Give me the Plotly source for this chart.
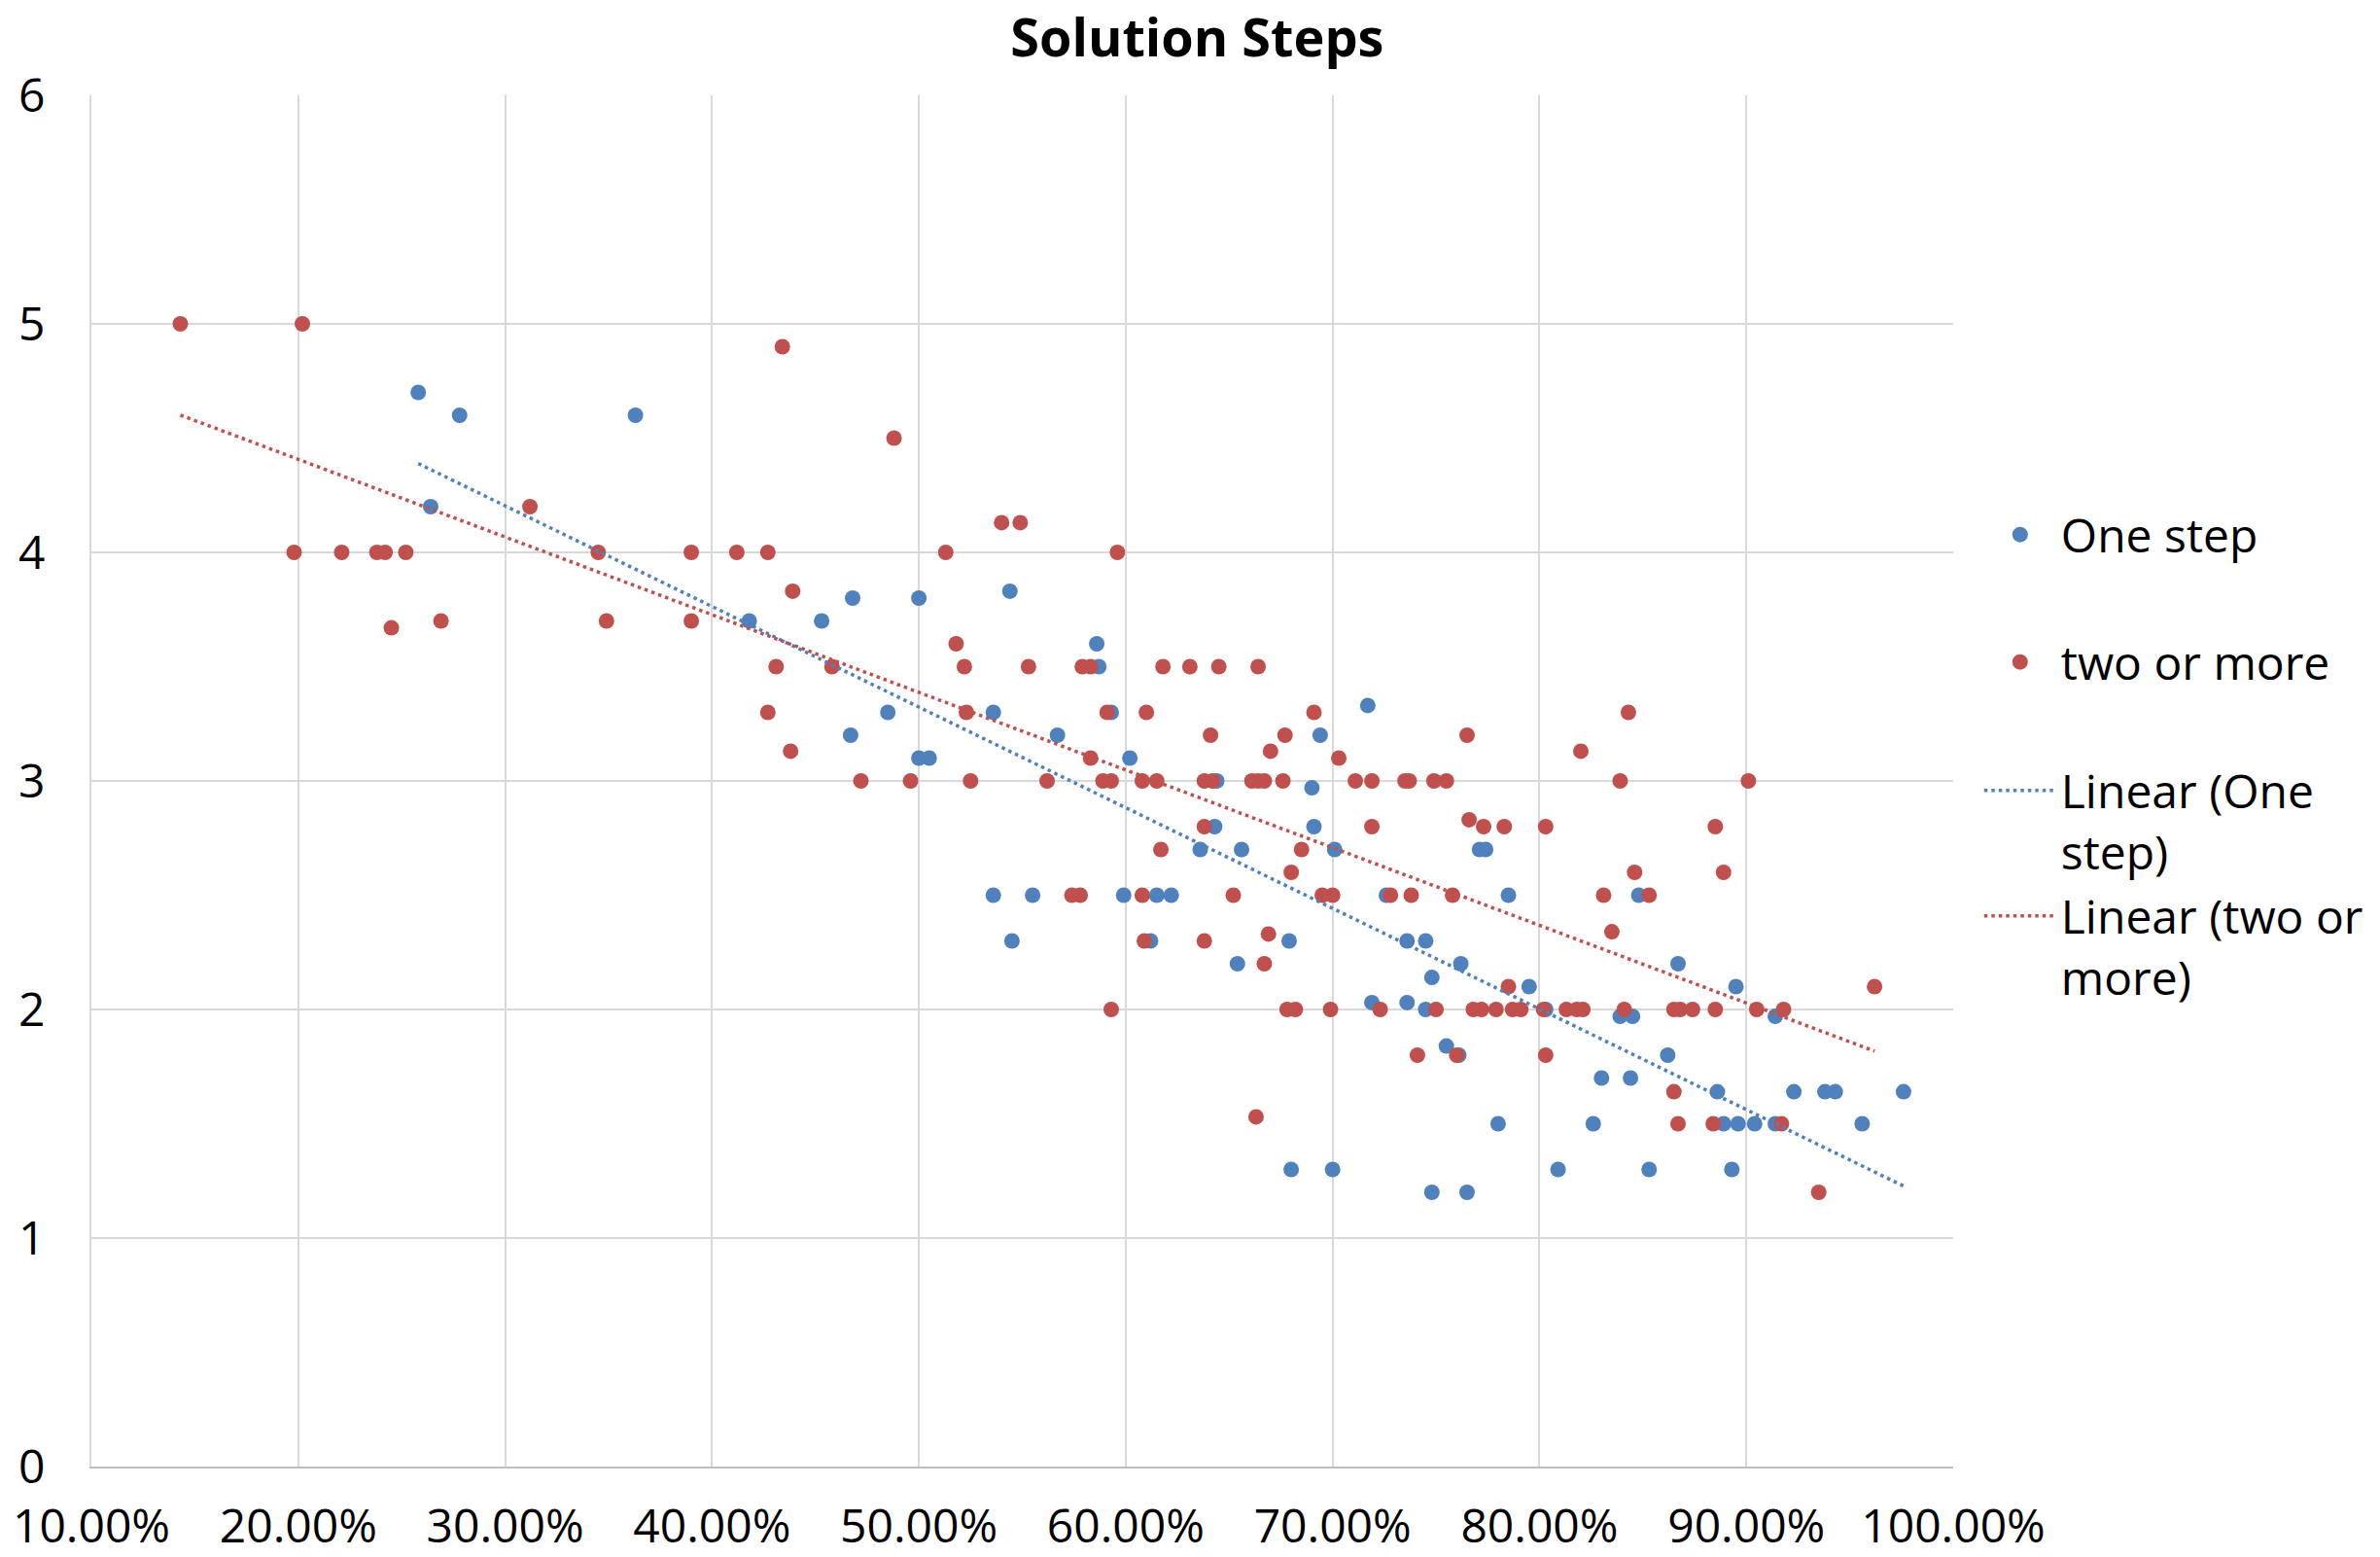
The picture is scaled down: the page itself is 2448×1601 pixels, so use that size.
import numpy as np
import plotly.graph_objects as go

# Share of correct answers (%) and average number of solution steps
one_step_pct = [
    25.8, 27.8, 26.4, 36.3, 41.8, 46.8, 50.0, 54.4, 45.3, 58.6,
    58.7, 48.5, 53.6, 59.3, 46.7, 56.7, 50.0, 50.5, 60.2, 64.4,
    69.0, 64.3, 69.1, 63.6, 65.6, 53.6, 55.5, 59.9, 61.5, 62.2,
    54.5, 61.2, 67.9, 65.4, 68.0, 71.7, 69.4, 70.1, 77.1, 77.4,
    72.6, 78.5, 84.8, 73.6, 74.5, 76.2, 74.8, 86.7, 79.5, 89.5,
    71.9, 73.6, 74.5, 80.3, 83.9, 84.5, 91.4, 75.5, 76.1, 86.2,
    83.0, 84.4, 88.6, 92.3, 93.8, 94.3, 97.6, 78.0, 82.6, 88.9,
    89.6, 90.4, 91.4, 95.6, 70.0, 80.9, 85.3, 89.3, 74.8, 76.5,
]
one_step_steps = [
    4.70, 4.60, 4.20, 4.60, 3.70, 3.80, 3.80, 3.83, 3.70, 3.60,
    3.50, 3.30, 3.30, 3.30, 3.20, 3.20, 3.10, 3.10, 3.10, 3.00,
    2.97, 2.80, 2.80, 2.70, 2.70, 2.50, 2.50, 2.50, 2.50, 2.50,
    2.30, 2.30, 2.30, 2.20, 1.30, 3.33, 3.20, 2.70, 2.70, 2.70,
    2.50, 2.50, 2.50, 2.30, 2.30, 2.20, 2.14, 2.20, 2.10, 2.10,
    2.03, 2.03, 2.00, 2.00, 1.97, 1.97, 1.97, 1.84, 1.80, 1.80,
    1.70, 1.70, 1.64, 1.64, 1.64, 1.64, 1.64, 1.50, 1.50, 1.50,
    1.50, 1.50, 1.50, 1.50, 1.30, 1.30, 1.30, 1.30, 1.20, 1.20,
]

two_more_pct = [
    14.3, 20.2, 19.8, 22.1, 23.8, 24.2, 25.2, 24.5, 26.9, 31.2,
    34.5, 34.9, 39.0, 39.0, 41.2, 43.4, 48.8, 54.0, 54.9, 42.7,
    51.3, 59.6, 43.9, 43.1, 45.8, 51.8, 52.2, 55.3, 57.9, 58.3,
    61.8, 63.1, 64.5, 66.4, 42.7, 43.8, 47.2, 49.6, 52.3, 52.5,
    56.2, 59.1, 58.3, 58.9, 59.3, 61.0, 60.8, 61.5, 64.1, 63.8,
    64.2, 67.0, 67.7, 66.1, 66.4, 66.7, 67.6, 69.1, 63.8, 61.7,
    68.5, 68.0, 59.3, 57.4, 57.8, 60.8, 65.2, 60.9, 63.8, 66.9,
    66.7, 66.3, 67.8, 68.2, 84.3, 76.5, 82.0, 70.3, 71.1, 71.9,
    73.5, 73.7, 74.9, 75.5, 83.9, 90.1, 71.9, 76.6, 77.3, 78.3,
    80.3, 88.5, 84.6, 88.9, 69.5, 70.0, 72.8, 73.8, 75.8, 83.1,
    85.3, 83.5, 78.5, 69.9, 72.3, 75.0, 76.8, 77.2, 77.9, 78.7,
    79.1, 80.2, 81.3, 81.8, 82.1, 84.1, 86.5, 86.8, 87.4, 88.5,
    90.5, 91.8, 96.2, 74.1, 76.0, 80.3, 86.5, 86.7, 88.4, 91.7,
    93.5,
]
two_more_steps = [
    5.00, 5.00, 4.00, 4.00, 4.00, 4.00, 4.00, 3.67, 3.70, 4.20,
    4.00, 3.70, 4.00, 3.70, 4.00, 4.90, 4.50, 4.13, 4.13, 4.00,
    4.00, 4.00, 3.83, 3.50, 3.50, 3.60, 3.50, 3.50, 3.50, 3.50,
    3.50, 3.50, 3.50, 3.50, 3.30, 3.13, 3.00, 3.00, 3.30, 3.00,
    3.00, 3.30, 3.10, 3.00, 3.00, 3.30, 3.00, 3.00, 3.20, 3.00,
    3.00, 3.13, 3.20, 3.00, 3.00, 3.00, 3.00, 3.30, 2.80, 2.70,
    2.70, 2.60, 2.00, 2.50, 2.50, 2.50, 2.50, 2.30, 2.30, 2.33,
    2.20, 1.53, 2.00, 2.00, 3.30, 3.20, 3.13, 3.10, 3.00, 3.00,
    3.00, 3.00, 3.00, 3.00, 3.00, 3.00, 2.80, 2.83, 2.80, 2.80,
    2.80, 2.80, 2.60, 2.60, 2.50, 2.50, 2.50, 2.50, 2.50, 2.50,
    2.50, 2.34, 2.10, 2.00, 2.00, 2.00, 2.00, 2.00, 2.00, 2.00,
    2.00, 2.00, 2.00, 2.00, 2.00, 2.00, 2.00, 2.00, 2.00, 2.00,
    2.00, 2.00, 2.10, 1.80, 1.80, 1.80, 1.64, 1.50, 1.50, 1.50,
    1.20,
]

x_tick_vals = [0.1, 0.2, 0.3, 0.4, 0.5, 0.6, 0.7, 0.8, 0.9, 1.0]
y_tick_vals = [0, 1, 2, 3, 4, 5, 6]

BLUE = "#4F81BD"
RED = "#C0504D"
FONT = "Open Sans"
FS = 48

x1 = np.array(one_step_pct) / 100
y1 = np.array(one_step_steps)
x2 = np.array(two_more_pct) / 100
y2 = np.array(two_more_steps)


def linear_trend(x, y):
    """Least-squares line spanning the series' x range."""
    slope, intercept = np.polyfit(x, y, 1)
    xs = np.array([x.min(), x.max()])
    return xs, slope * xs + intercept


t1x, t1y = linear_trend(x1, y1)
t2x, t2y = linear_trend(x2, y2)

fig = go.Figure()
fig.add_trace(go.Scatter(
    x=x1, y=y1, mode="markers", name="One step", legend="legend",
    showlegend=True,
    marker=dict(color=BLUE, size=16, line=dict(width=0)),
))
fig.add_trace(go.Scatter(
    x=x2, y=y2, mode="markers", name="two or more", legend="legend2",
    showlegend=True,
    marker=dict(color=RED, size=16, line=dict(width=0)),
))
fig.add_trace(go.Scatter(
    x=t1x, y=t1y, mode="lines", name="Linear (One<br>step)", legend="legend3",
    showlegend=True,
    line=dict(color=BLUE, width=3.5, dash="3.5px,4px"),
))
fig.add_trace(go.Scatter(
    x=t2x, y=t2y, mode="lines", name="Linear (two or<br>more)", legend="legend4",
    showlegend=True,
    line=dict(color=RED, width=3.5, dash="3.5px,4px"),
))

W, H = 2448, 1601
L, R, T, B = 94, 439, 98, 93
plot_h = H - T - B


def ypaper(px):
    return (H - B - px) / plot_h


legend_base = dict(
    font=dict(family=FONT, size=FS, color="black"),
    itemwidth=74, bgcolor="rgba(0,0,0,0)", borderwidth=0,
    x=1.014, xanchor="left", yanchor="middle", valign="top",
    visible=True,
)

fig.update_layout(
    width=W, height=H,
    margin=dict(l=L, r=R, t=T, b=B, autoexpand=False),
    showlegend=True,
    paper_bgcolor="white", plot_bgcolor="white",
    font=dict(family=FONT, size=FS, color="black"),
    title=dict(
        text="<b>Solution Steps</b>",
        x=0.503, xref="container", xanchor="center",
        y=1 - 39 / H, yref="container", yanchor="middle",
        font=dict(family=FONT, size=54, color="black"),
    ),
    legend=dict(**legend_base, y=ypaper(550)),
    legend2=dict(**legend_base, y=ypaper(681)),
    legend3=dict(**legend_base, y=ypaper(844)),
    legend4=dict(**legend_base, y=ypaper(973)),
    xaxis=dict(
        range=[0.1, 1.0], tickvals=x_tick_vals, tickformat=".2%",
        showgrid=True, gridcolor="#D9D9D9", gridwidth=2,
        zeroline=False, showline=True, linecolor="#BFBFBF", linewidth=2,
        ticks="outside", ticklen=18, tickcolor="rgba(0,0,0,0)",
        tickfont=dict(family=FONT, size=FS, color="black"),
        automargin=False,
    ),
    yaxis=dict(
        range=[0, 6], tickvals=y_tick_vals,
        showgrid=True, gridcolor="#D9D9D9", gridwidth=2,
        zeroline=False, showline=True, linecolor="#D9D9D9", linewidth=2,
        ticks="outside", ticklen=36, tickcolor="rgba(0,0,0,0)",
        tickfont=dict(family=FONT, size=FS, color="black"),
        automargin=False,
    ),
)

fig.write_html("out.html")
